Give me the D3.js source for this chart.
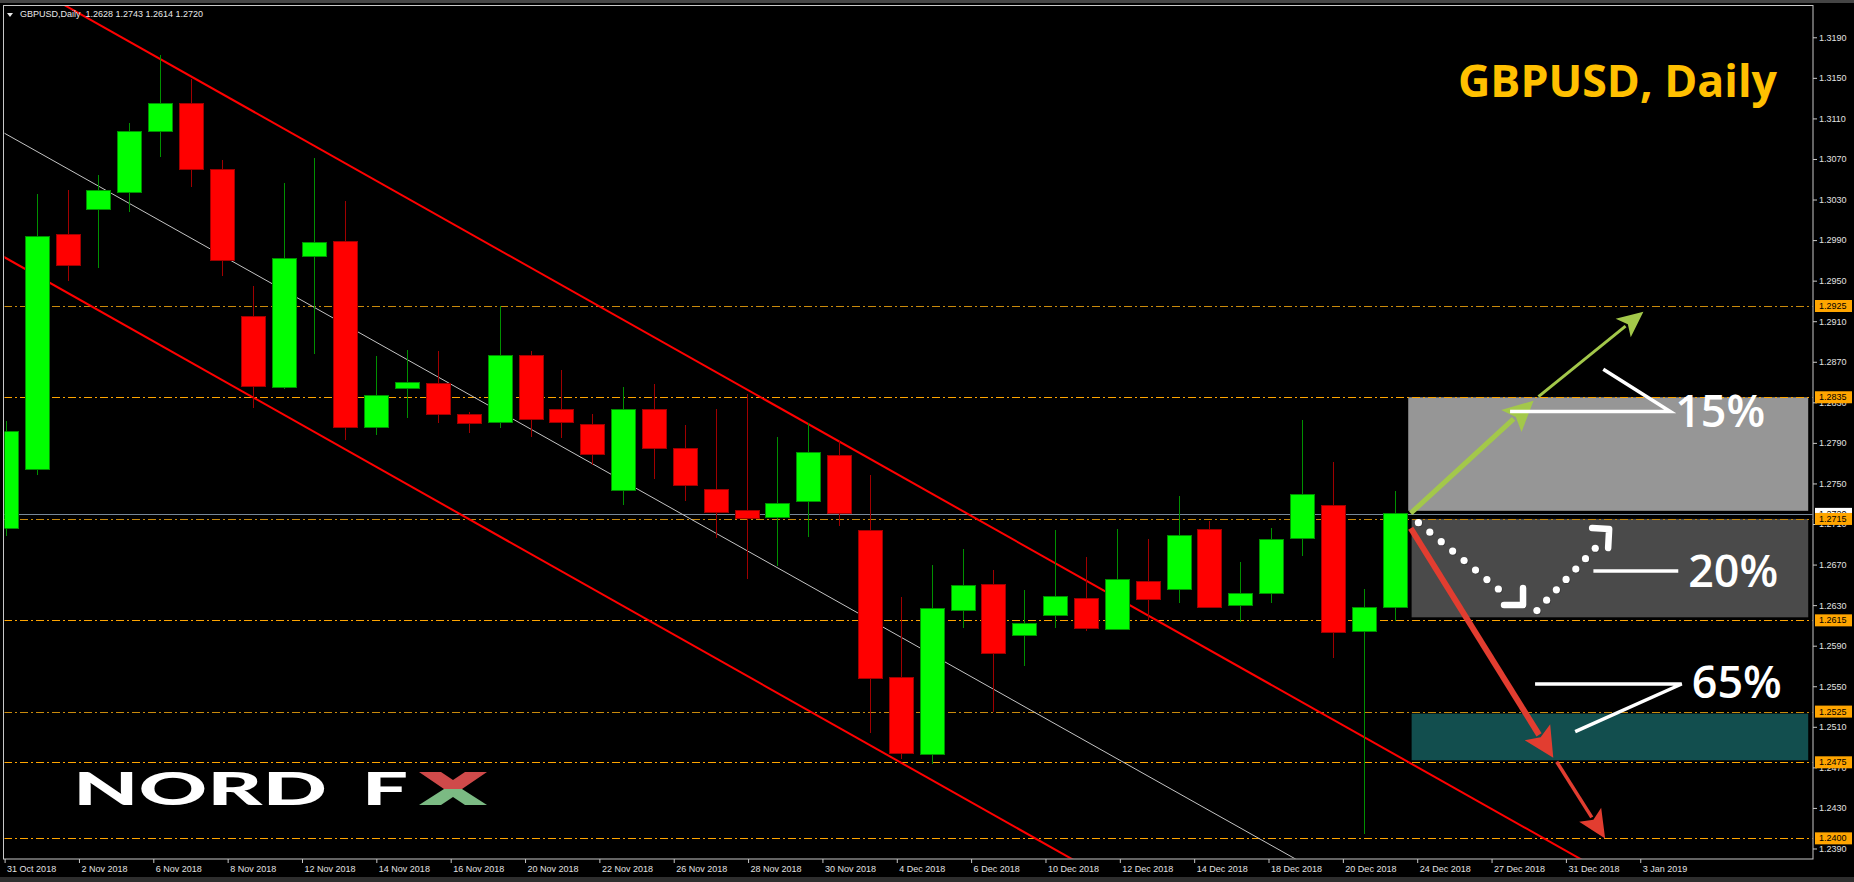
<!DOCTYPE html>
<html><head><meta charset="utf-8">
<script src="https://cdn.jsdelivr.net/npm/d3@7"></script>
<style>html,body{margin:0;padding:0;background:#000;overflow:hidden}</style>
</head><body>
<svg id="c" width="1854" height="882"></svg>
<script>
// ---------------- data ----------------
const symbolText = "GBPUSD,Daily";
const ohlcText = "1.2628 1.2743 1.2614 1.2720";
const titleText = "GBPUSD, Daily";
const firstBar = -1;   // index of the first (partially visible) bar
const opens  = [1.2706,1.2764,1.2996,1.3020,1.3037,1.3097,1.3125,1.3060,1.2915,1.2845,1.2974,1.2989,1.2805,1.2844,1.2849,1.2818,1.2810,1.2876,1.2823,1.2808,1.2743,1.2823,1.2784,1.2744,1.2723,1.2716,1.2732,1.2778,1.2704,1.2559,1.2483,1.2625,1.2650,1.2600,1.2620,1.2637,1.2606,1.2653,1.2645,1.2705,1.2630,1.2641,1.2696,1.2728,1.2604,1.2628];
const highs  = [1.2812,1.3035,1.3039,1.3054,1.3105,1.3173,1.3149,1.3069,1.2945,1.3046,1.3071,1.3029,1.2876,1.2882,1.2881,1.2820,1.2925,1.2881,1.2862,1.2818,1.2845,1.2848,1.2808,1.2823,1.2838,1.2796,1.2810,1.2792,1.2758,1.2638,1.2670,1.2685,1.2665,1.2645,1.2704,1.2677,1.2705,1.2695,1.2738,1.2713,1.2673,1.2706,1.2813,1.2771,1.2646,1.2743];
const lows   = [1.2698,1.2758,1.2950,1.2962,1.3018,1.3072,1.3042,1.2955,1.2824,1.2843,1.2878,1.2793,1.2798,1.2815,1.2810,1.2800,1.2805,1.2796,1.2795,1.2768,1.2729,1.2754,1.2733,1.2696,1.2656,1.2669,1.2697,1.2708,1.2504,1.2478,1.2473,1.2607,1.2525,1.2570,1.2607,1.2604,1.2605,1.2615,1.2632,1.2627,1.2613,1.2632,1.2678,1.2578,1.2404,1.2614];
const closes = [1.2801,1.2994,1.2965,1.3039,1.3097,1.3125,1.3060,1.2970,1.2846,1.2972,1.2988,1.2805,1.2837,1.2850,1.2818,1.2809,1.2876,1.2813,1.2810,1.2779,1.2823,1.2784,1.2748,1.2721,1.2715,1.2730,1.2781,1.2720,1.2558,1.2484,1.2627,1.2649,1.2582,1.2612,1.2639,1.2607,1.2655,1.2636,1.2699,1.2628,1.2641,1.2695,1.2739,1.2603,1.2628,1.2720];

const priceTicks = [1.3190,1.3150,1.3110,1.3070,1.3030,1.2990,1.2950,1.2910,1.2870,1.2830,1.2790,1.2750,1.2710,1.2670,1.2630,1.2590,1.2550,1.2510,1.2470,1.2430,1.2390];
const levels = [1.2925,1.2835,1.2715,1.2615,1.2525,1.2475,1.2400];
const levelDark = [true,false,true,false,true,false,false];
const bidPrice = 1.2720;
const dateLabels = ["31 Oct 2018","2 Nov 2018","6 Nov 2018","8 Nov 2018","12 Nov 2018","14 Nov 2018","16 Nov 2018","20 Nov 2018","22 Nov 2018","26 Nov 2018","28 Nov 2018","30 Nov 2018","4 Dec 2018","6 Dec 2018","10 Dec 2018","12 Dec 2018","14 Dec 2018","18 Dec 2018","20 Dec 2018","24 Dec 2018","27 Dec 2018","31 Dec 2018","3 Jan 2019"];
const dateLabelStart = -1.04, dateLabelStep = 2.409;   // in bars

// trend lines [barIndex, price]
const channelUpper = [[1,1.3220],[50,1.2380]];
const channelLower = [[-1.04,1.2973],[35,1.23546]];
const channelMid   = [[-1.04,1.30953],[41,1.2376]];

// scenario zones [bar0, bar1, priceTop, priceBottom]
const zoneUp   = [44.44,57.40,1.2835,1.2723];
const zoneFlat = [44.55,57.40,1.2715,1.2618];
const zoneDown = [44.55,57.40,1.2523,1.2477];

// scenario arrows
const upArrow1   = [[44.52,1.27206],[48.50,1.28316]];
const upArrow2   = [[48.66,1.28356],[52.06,1.29194]];
const downArrow1 = [[44.52,1.27058],[49.14,1.24795]];
const downArrow2 = [[49.25,1.24756],[50.82,1.23999]];
const flatDots1  = [[44.77,1.27113],[47.36,1.26459]];
const flatHead1  = [48.16,1.26301];
const flatDots2  = [[48.61,1.26246],[50.50,1.26861]];
const flatHead2  = [50.95,1.27051];

// callouts
const callout15 = [[47.74,1.28210],[52.93,1.28210],[50.76,1.28626]];
const callout20 = [[50.44,1.26637],[53.19,1.26637]];
const callout65 = [[48.55,1.25522],[53.30,1.25522],[49.85,1.25052]];
const pctLabels = ["15%","20%","65%"];
const pctPos = [[53.09,1.28224],[53.51,1.26646],[53.63,1.25552]];

// ---------------- drawing ----------------
const svg = d3.select("#c");
const W = 1854, H = 882;
const PL = 4, PT = 5.5, PR = 1813, PB = 859;
const AX = "'Liberation Sans', Arial, sans-serif";

const x = d3.scaleLinear().domain([-1, 57]).range([5.84, 1795.86]);
const y = d3.scaleLinear().domain([1.2925, 1.2400]).range([306, 838.35]);

svg.append("rect").attr("width", W).attr("height", H).attr("fill", "#000");
svg.append("rect").attr("x",0).attr("y",0).attr("width",W).attr("height",3).attr("fill","#454545");
svg.append("rect").attr("x",0).attr("y",877).attr("width",W).attr("height",5).attr("fill","#2e2e2e");

svg.append("clipPath").attr("id","plot").append("rect")
  .attr("x",PL+0.5).attr("y",PT+0.5).attr("width",PR-PL-1).attr("height",PB-PT-1);
const plot = svg.append("g").attr("clip-path","url(#plot)");

// zones
function zone(z, fill){
  plot.append("rect").attr("x",x(z[0])).attr("width",x(z[1])-x(z[0]))
    .attr("y",y(z[2])).attr("height",y(z[3])-y(z[2])).attr("fill",fill);
}
zone(zoneUp,"#969696");
zone(zoneFlat,"#4a4a4a");
zone(zoneDown,"#124e4e");

// level lines
levels.forEach((lv,i)=>{
  plot.append("line").attr("x1",PL).attr("x2",PR)
    .attr("y1",Math.round(y(lv))+0.5).attr("y2",Math.round(y(lv))+0.5)
    .attr("stroke", levelDark[i] ? "#c98a0c" : "#ffa500").attr("stroke-width",1)
    .attr("stroke-dasharray","8,3,2,3");
});
// bid line
plot.append("line").attr("x1",PL).attr("x2",PR)
  .attr("y1",Math.round(y(bidPrice))+0.5).attr("y2",Math.round(y(bidPrice))+0.5)
  .attr("stroke","#778899").attr("stroke-width",1);

// trend lines (extended through the plot)
function extLine(pts, color, w){
  const [a,b] = pts;
  const s = (b[1]-a[1])/(b[0]-a[0]);
  const i0 = -3, i1 = 60;
  plot.append("line").attr("x1",x(i0)).attr("y1",y(a[1]+s*(i0-a[0])))
    .attr("x2",x(i1)).attr("y2",y(a[1]+s*(i1-a[0])))
    .attr("stroke",color).attr("stroke-width",w);
}
extLine(channelMid,"#c4c4c4",1);
extLine(channelUpper,"#ff0000",2);
extLine(channelLower,"#ff0000",2);

// candles
const bars = opens.map((o,i)=>({i:firstBar+i,o,h:highs[i],l:lows[i],c:closes[i]}));
const cg = plot.append("g").attr("shape-rendering","crispEdges");
bars.forEach(d=>{
  const up = d.c >= d.o;
  const edge = up ? "#009000" : "#a00000";
  const cx = Math.round(x(d.i));
  cg.append("line").attr("x1",cx+0.5).attr("x2",cx+0.5).attr("y1",y(d.h)).attr("y2",y(d.l))
    .attr("stroke",edge).attr("stroke-width",1);
  const top = y(Math.max(d.o,d.c)), bot = y(Math.min(d.o,d.c));
  cg.append("rect").attr("x",cx-11.5).attr("width",24).attr("y",top)
    .attr("height",Math.max(1,bot-top)).attr("fill",up?"#00ff00":"#ff0000")
    .attr("stroke",edge).attr("stroke-width",1);
});

// arrows
function arrow(pts, w, hl, hw, color){
  const x0=x(pts[0][0]), y0=y(pts[0][1]), x1=x(pts[1][0]), y1=y(pts[1][1]);
  const dx=x1-x0, dy=y1-y0, L=Math.hypot(dx,dy), ux=dx/L, uy=dy/L, px=-uy, py=ux;
  const bx=x1-ux*hl, by=y1-uy*hl;
  svg.append("line").attr("x1",x0).attr("y1",y0).attr("x2",bx+ux*3).attr("y2",by+uy*3)
    .attr("stroke",color).attr("stroke-width",w);
  svg.append("polygon").attr("points",[[x1,y1],[bx+px*hw/2,by+py*hw/2],[bx+ux*6,by+uy*6],[bx-px*hw/2,by-py*hw/2]].map(p=>p.join(",")).join(" "))
    .attr("fill",color);
}
arrow(upArrow1,5,30,30,"#a3c84a");
arrow(upArrow2,3,26,24,"#a3c84a");
arrow(downArrow1,6,30,30,"#e23d30");
arrow(downArrow2,3.5,28,26,"#e23d30");

// dotted scenario
function dots(pts){
  const x0=x(pts[0][0]), y0=y(pts[0][1]), x1=x(pts[1][0]), y1=y(pts[1][1]);
  const L=Math.hypot(x1-x0,y1-y0), n=Math.round(L/14.6);
  d3.range(n+1).forEach(k=>{
    const t=k/n;
    svg.append("circle").attr("cx",x0+(x1-x0)*t+0.8).attr("cy",y0+(y1-y0)*t+0.8).attr("r",3.6).attr("fill","#3a3a3a");
    svg.append("circle").attr("cx",x0+(x1-x0)*t).attr("cy",y0+(y1-y0)*t).attr("r",3.6).attr("fill","#fff");
  });
}
dots(flatDots1); dots(flatDots2);
function chevron(p, a1, a2){
  const cx=x(p[0]), cy=y(p[1]);
  svg.append("path").attr("d",`M${cx+a1[0]},${cy+a1[1]}L${cx},${cy}L${cx+a2[0]},${cy+a2[1]}`)
    .attr("fill","none").attr("stroke","#fff").attr("stroke-width",6.5)
    .attr("stroke-linejoin","round").attr("stroke-linecap","round");
}
chevron(flatHead1,[-19,0],[0,-17]);
chevron(flatHead2,[-17,-1],[-1,19]);

// callouts
const lineGen = d3.line().x(d=>x(d[0])).y(d=>y(d[1]));
[callout15,callout20,callout65].forEach(c=>{
  svg.append("path").attr("d",lineGen(c)).attr("fill","none")
    .attr("stroke","#fff").attr("stroke-width",3.5).attr("stroke-linejoin","miter");
});
pctLabels.forEach((t,i)=>{
  svg.append("text").attr("x",x(pctPos[i][0])).attr("y",y(pctPos[i][1])+17)
    .attr("font-family","'Open Sans', sans-serif").attr("font-weight",600)
    .attr("font-size",46).attr("fill","#fff").attr("textLength",90).attr("lengthAdjust","spacingAndGlyphs").text(t);
});

// frame
svg.append("rect").attr("x",PL-0.5).attr("y",PT).attr("width",PR-PL+0.5).attr("height",PB-PT)
  .attr("fill","none").attr("stroke","#c8c8c8").attr("stroke-width",1);

// price axis
const ya = svg.append("g").attr("transform",`translate(${PR},0)`)
  .call(d3.axisRight(y).tickValues(priceTicks).tickFormat(d3.format(".4f")).tickSize(4).tickPadding(2));
ya.select(".domain").remove();
ya.selectAll("line").attr("stroke","#c8c8c8");
ya.selectAll("text").attr("fill","#e2e2e2").attr("font-family",AX).attr("font-size",9);

// level labels
function priceLabel(v, fill){
  const g = svg.append("g");
  g.append("rect").attr("x",PR+2).attr("y",y(v)-6).attr("width",37).attr("height",12).attr("fill",fill);
  g.append("text").attr("x",PR+6).attr("y",y(v)).attr("dy","0.34em").attr("fill","#000")
    .attr("font-family",AX).attr("font-size",9).text(d3.format(".4f")(v));
}
priceLabel(bidPrice,"#ffffff");
levels.forEach(v=>priceLabel(v,"#ffa500"));

// date axis
const xa = svg.append("g").attr("transform",`translate(0,${PB})`)
  .call(d3.axisBottom(x).tickValues(dateLabels.map((d,i)=>dateLabelStart+dateLabelStep*i))
    .tickFormat((d,i)=>dateLabels[i]).tickSize(4).tickPadding(3));
xa.select(".domain").remove();
xa.selectAll("line").attr("stroke","#c8c8c8");
xa.selectAll("text").attr("text-anchor","start").attr("dx",2).attr("fill","#e2e2e2")
  .attr("font-family",AX).attr("font-size",9);

// header
svg.append("path").attr("d","M7,13L13,13L10,17Z").attr("fill","#e8e8e8");
svg.append("text").attr("x",20).attr("y",17).attr("fill","#e8e8e8").attr("font-family",AX).attr("font-size",9)
  .attr("xml:space","preserve").text(symbolText + "  " + ohlcText);

// title
svg.append("text").attr("x",1777).attr("y",97).attr("text-anchor","end")
  .attr("font-family","'Open Sans', sans-serif").attr("font-weight",700).attr("font-size",44)
  .attr("fill","#ffc000").attr("textLength",319).attr("lengthAdjust","spacingAndGlyphs").text(titleText);

// logo
svg.append("text").attr("x",73).attr("y",805).attr("font-family","Lato, sans-serif").attr("font-weight",900)
  .attr("font-size",46).attr("fill","#fff").attr("textLength",254).attr("lengthAdjust","spacingAndGlyphs").text("NORD");
svg.append("text").attr("x",362).attr("y",805).attr("font-family","Lato, sans-serif").attr("font-weight",900)
  .attr("font-size",46).attr("fill","#fff").attr("textLength",46).attr("lengthAdjust","spacingAndGlyphs").text("F");
svg.append("polygon").attr("points","419,772 441,772 453,780 465,772 487,772 462,789 444,789").attr("fill","#cf4a4a");
svg.append("polygon").attr("points","444,789 462,789 487,805 465,805 453,797 441,805 419,805").attr("fill","#7bba83");
</script>
</body></html>
